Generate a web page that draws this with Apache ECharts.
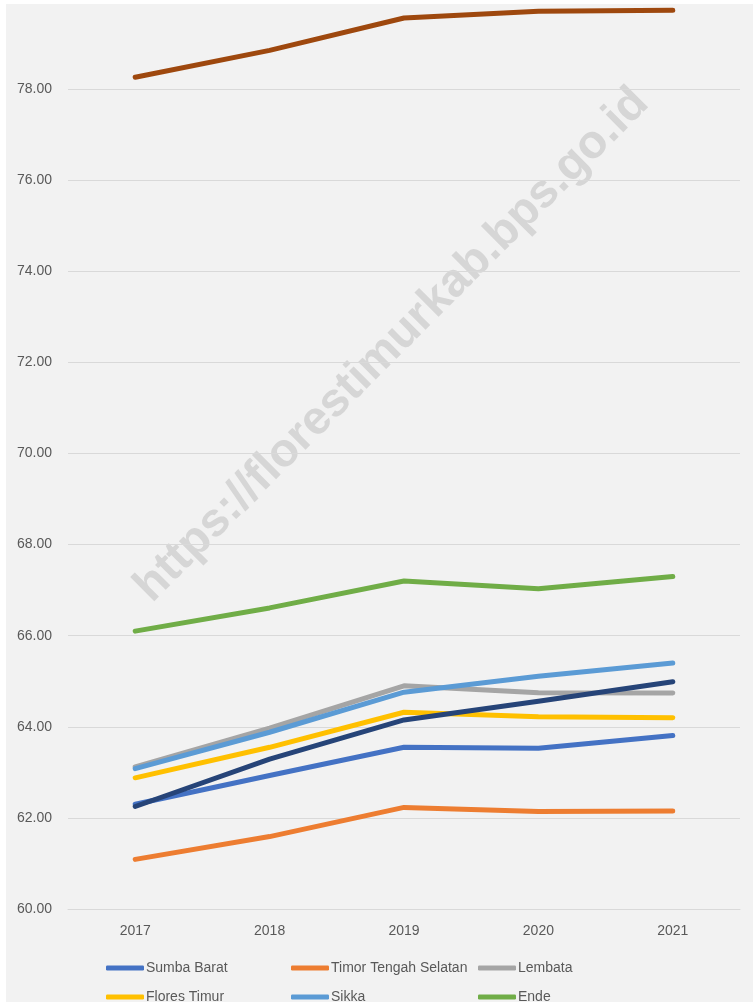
<!DOCTYPE html>
<html>
<head>
<meta charset="utf-8">
<script src="https://cdn.jsdelivr.net/npm/echarts@6/dist/echarts.min.js"></script>
<style>
html,body{margin:0;padding:0;background:#ffffff;width:753px;height:1002px;overflow:hidden;}
#chart{position:absolute;left:6px;top:-6px;width:747px;height:1008px;}
#topband{position:absolute;left:0;top:0;width:753px;height:4px;background:#ffffff;z-index:5;}
</style>
</head>
<body>
<div id="chart"></div>
<div id="topband"></div>
<script>
const years = ['2017', '2018', '2019', '2020', '2021'];
const sumbaBarat = [62.30, 62.93, 63.55, 63.53, 63.81];
const timorTengahSelatan = [61.09, 61.59, 62.23, 62.14, 62.15];
const lembata = [63.12, 63.97, 64.90, 64.75, 64.74];
const floresTimur = [62.88, 63.55, 64.32, 64.22, 64.20];
const sikka = [63.08, 63.88, 64.76, 65.11, 65.40];
const ende = [66.10, 66.61, 67.20, 67.03, 67.30];
const manggarai = [62.25, 63.29, 64.15, 64.56, 64.99];
const kotaKupang = [78.26, 78.85, 79.56, 79.71, 79.73];
const yTicks = {min: 60, max: 80, step: 2};

const seriesDefs = [
  {name: 'Sumba Barat', data: sumbaBarat, color: '#4472c4'},
  {name: 'Timor Tengah Selatan', data: timorTengahSelatan, color: '#ed7d31'},
  {name: 'Lembata', data: lembata, color: '#a5a5a5'},
  {name: 'Flores Timur', data: floresTimur, color: '#ffc000'},
  {name: 'Sikka', data: sikka, color: '#5b9bd5'},
  {name: 'Ende', data: ende, color: '#70ad47'},
  {name: 'Manggarai', data: manggarai, color: '#264478'},
  {name: 'Kota Kupang', data: kotaKupang, color: '#9e480e'}
];

const font = '"Liberation Sans", Arial, sans-serif';
const chart = echarts.init(document.getElementById('chart'));

function legendCol(left, names) {
  return {
    orient: 'vertical',
    left: left,
    top: 967,
    height: 200,
    padding: 0,
    icon: 'roundRect',
    itemWidth: 38,
    itemHeight: 5,
    itemGap: 15,
    data: names,
    selectedMode: false,
    textStyle: {color: '#595959', fontSize: 14, fontFamily: font, lineHeight: 13, padding: [0, 0, 0, -3]}
  };
}

chart.setOption({
  backgroundColor: '#f2f2f2',
  animation: false,
  grid: {left: 62, right: 13, top: 4, bottom: 93, containLabel: false},
  xAxis: {
    type: 'category',
    data: years,
    boundaryGap: true,
    axisLine: {show: true, lineStyle: {color: '#d9d9d9', width: 1}},
    axisTick: {show: false},
    axisLabel: {color: '#595959', fontSize: 14, fontFamily: font, margin: 15}
  },
  yAxis: {
    type: 'value',
    min: yTicks.min,
    max: yTicks.max,
    interval: yTicks.step,
    axisLine: {show: false},
    axisTick: {show: false},
    splitLine: {lineStyle: {color: '#d9d9d9', width: 1}},
    axisLabel: {
      color: '#595959', fontSize: 14, fontFamily: font, margin: 16,
      showMaxLabel: false,
      formatter: v => v.toFixed(2)
    }
  },
  legend: [
    legendCol(100, ['Sumba Barat', 'Flores Timur', 'Manggarai']),
    legendCol(285, ['Timor Tengah Selatan', 'Sikka', 'Kota Kupang']),
    legendCol(472, ['Lembata', 'Ende'])
  ],
  graphic: [{
    type: 'text',
    x: 386,
    y: 351,
    rotation: Math.PI / 4,
    z: 0,
    style: {
      text: 'https://florestimurkab.bps.go.id',
      font: 'bold 47px "Liberation Sans", Arial, sans-serif',
      fill: 'rgba(185,185,185,0.5)',
      align: 'center',
      verticalAlign: 'middle'
    }
  }],
  series: seriesDefs.map(s => ({
    name: s.name,
    type: 'line',
    data: s.data,
    color: s.color,
    symbol: 'none',
    showSymbol: false,
    smooth: false,
    z: 3,
    lineStyle: {width: 5, color: s.color, cap: 'round', join: 'round'},
    itemStyle: {color: s.color}
  }))
});
</script>
</body>
</html>
